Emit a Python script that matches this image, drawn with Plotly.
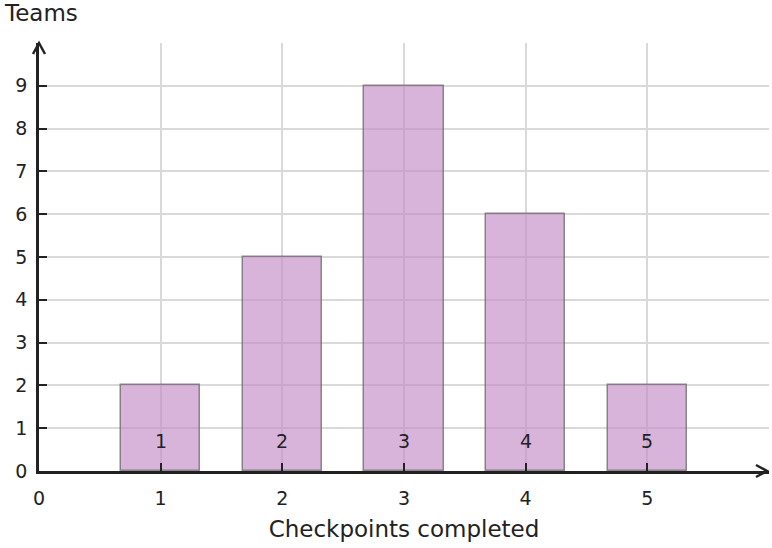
import plotly.graph_objects as go

# Checkpoints completed per team
checkpoints = [1, 2, 3, 4, 5]
teams = [2, 5, 9, 6, 2]
bar_labels = ["1", "2", "3", "4", "5"]

x_ticks = [0, 1, 2, 3, 4, 5]
y_ticks = [0, 1, 2, 3, 4, 5, 6, 7, 8, 9]

AXIS_COLOR = "#222222"
GRID_COLOR = "#d9d9d9"
FONT = "DejaVu Sans"

fig = go.Figure()

fig.add_trace(go.Bar(
    x=checkpoints,
    y=teams,
    width=0.65,
    marker=dict(color="rgba(195,140,200,0.65)",
                line=dict(color="rgba(110,110,110,0.8)", width=1.5)),
    hoverinfo="x+y",
    showlegend=False,
))

# labels sitting near the bottom of each bar
for xv, lab in zip(checkpoints, bar_labels):
    fig.add_annotation(x=xv, y=0.7, text=lab, showarrow=False,
                       font=dict(size=19, color=AXIS_COLOR, family=FONT))

# arrow heads on the axes (paper refs so they are not clipped)
fig.add_shape(type="path", xref="paper", yref="paper", xsizemode="pixel", ysizemode="pixel",
              xanchor=1, yanchor=0, path="M -13 6 L -2 0 L -13 -6",
              line=dict(color=AXIS_COLOR, width=2.5))
fig.add_shape(type="path", xref="paper", yref="paper", xsizemode="pixel", ysizemode="pixel",
              xanchor=0, yanchor=1, path="M -6 -11 L 0 0 L 6 -11",
              line=dict(color=AXIS_COLOR, width=2.5))

fig.update_layout(
    width=772, height=548,
    margin=dict(l=39, r=3, t=43, b=77, autoexpand=False),
    plot_bgcolor="white",
    paper_bgcolor="white",
    font=dict(family=FONT, size=19, color=AXIS_COLOR),
    bargap=0,
)

fig.update_xaxes(
    range=[0, 6],
    tickvals=x_ticks,
    ticktext=[str(v) for v in x_ticks],
    tickfont=dict(size=19, family=FONT, color=AXIS_COLOR),
    showgrid=True, gridcolor=GRID_COLOR, gridwidth=1.5,
    showline=True, linecolor=AXIS_COLOR, linewidth=2.5,
    ticks="inside", ticklen=8, tickwidth=2, tickcolor=AXIS_COLOR,
    ticklabelstandoff=8,
    zeroline=False, automargin=False,
    title=dict(text="Checkpoints completed", font=dict(size=23), standoff=14),
)
fig.update_yaxes(
    range=[0, 10],
    tickvals=y_ticks + [10],
    ticktext=[str(v) for v in y_ticks] + [""],
    tickfont=dict(size=19, family=FONT, color=AXIS_COLOR),
    showgrid=True, gridcolor=GRID_COLOR, gridwidth=1.5,
    showline=True, linecolor=AXIS_COLOR, linewidth=2.5,
    ticks="inside", ticklen=8, tickwidth=2, tickcolor=AXIS_COLOR,
    ticklabelstandoff=5,
    zeroline=False, automargin=False,
)

fig.add_annotation(xref="paper", yref="paper", x=0, xshift=-37, y=1.0, yshift=30,
                   xanchor="left", yanchor="middle", text="Teams", showarrow=False,
                   font=dict(size=23, color=AXIS_COLOR, family=FONT))

# drop the browser's default body margin so the figure fills the window
fig.write_html("out.html", config={"displayModeBar": False},
               post_script="document.body.style.margin = '0';")
